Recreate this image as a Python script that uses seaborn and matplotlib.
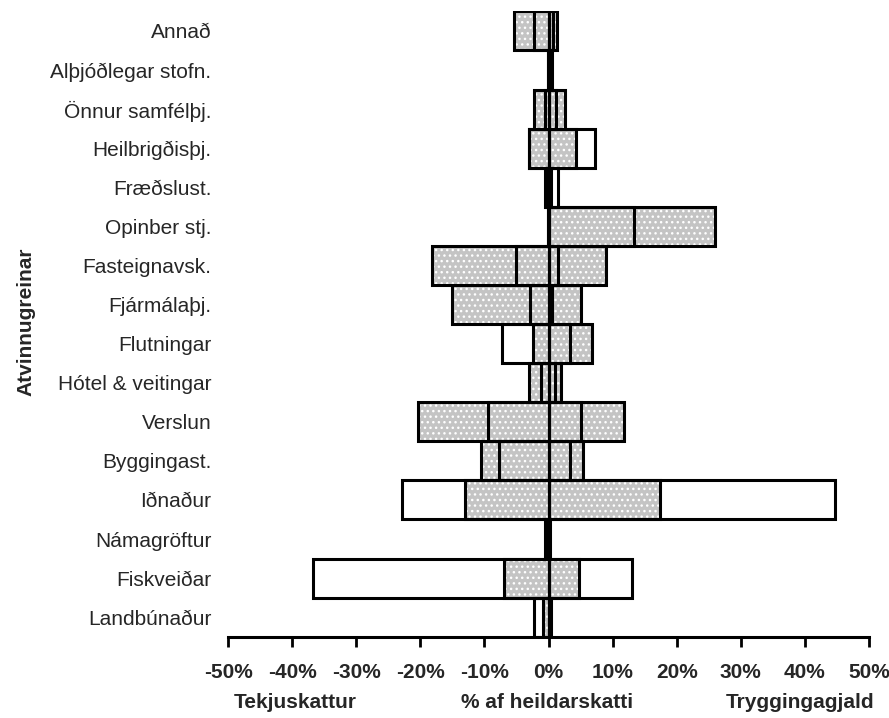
import matplotlib
matplotlib.use("Agg")
import matplotlib.pyplot as plt
import seaborn as sns

# ── Data (% af heildarskatti)
categories = ["Annað", "Alþjóðlegar stofn.", "Önnur samfélþj.", "Heilbrigðisþj.",
              "Fræðslust.", "Opinber stj.", "Fasteignavsk.", "Fjármálaþj.",
              "Flutningar", "Hótel & veitingar", "Verslun", "Byggingast.",
              "Iðnaður", "Námagröftur", "Fiskveiðar", "Landbúnaður"]

# Tekjuskattur (left side, negative)
tekju_filled  = [-5.4, -0.1, -2.3, -3.1, -0.3, -0.1, -18.1, -15.0,
                 -2.4, -3.1, -20.3, -10.6, -13.1, -0.4, -6.9, -0.9]
tekju_outline = [-2.2, -0.1, -0.6, -3.0, -0.6, -0.1, -5.1, -2.9,
                 -7.2, -1.1, -9.4, -7.8, -22.9, -0.5, -36.8, -2.2]

# Tryggingagjald (right side)
trygg_filled  = [1.3, 0.6, 2.6, 4.3, 0.4, 26.0, 9.0, 5.0,
                 6.8, 1.9, 11.8, 5.4, 17.4, 0.2, 4.8, 0.4]
trygg_outline = [0.7, 0.3, 1.1, 7.3, 1.5, 13.4, 1.5, 0.6,
                 3.4, 1.0, 5.0, 3.4, 44.7, 0.1, 13.0, 0.3]

xticks = [-50, -40, -30, -20, -10, 0, 10, 20, 30, 40, 50]
xticklabels = [f"{t}%" for t in xticks]

sns.set_style("white")
plt.rcParams["font.family"] = ["Liberation Sans", "DejaVu Sans"]
plt.rcParams["hatch.linewidth"] = 1.0

fig = plt.figure(figsize=(8.89, 7.18), dpi=100)
ax = fig.add_axes([0.2565, 0.1132, 0.721, 0.871])

# ── gray dotted bars (fill layer, then black outline on top)
for vals in (tekju_filled, trygg_filled):
    sns.barplot(x=vals, y=categories, orient="h", color="#c4c4c4", saturation=1,
                width=1.0, errorbar=None, edgecolor="white", hatch="...",
                linewidth=0, ax=ax)
    sns.barplot(x=vals, y=categories, orient="h", fill=False, width=1.0,
                errorbar=None, edgecolor="black", linewidth=2.2, ax=ax)

# ── outline-only bars drawn on top
for vals in (tekju_outline, trygg_outline):
    sns.barplot(x=vals, y=categories, orient="h", fill=False, width=1.0,
                errorbar=None, edgecolor="black", linewidth=2.2, ax=ax)

ax.set_xlim(-50, 50)
ax.set_ylim(len(categories) - 0.5, -0.5)
ax.set_xticks(xticks)
ax.set_xticklabels(xticklabels, fontsize=15, fontweight="bold")
ax.tick_params(axis="x", direction="out", length=7, width=2, pad=12,
               bottom=True, color="black")
ax.tick_params(axis="y", length=0, pad=12, labelsize=15)
for side in ("top", "right", "left"):
    ax.spines[side].set_visible(False)
ax.spines["bottom"].set_linewidth(2.2)
ax.spines["bottom"].set_color("black")
ax.set_xlabel("")
ax.set_ylabel("")

fig.text(26 / 889, 1 - 322 / 718, "Atvinnugreinar", rotation=90, ha="center",
         va="center", fontsize=15, fontweight="bold")
bottom_y = 1 - 703 / 718
fig.text(295 / 889, bottom_y, "Tekjuskattur", ha="center", va="center",
         fontsize=15, fontweight="bold")
fig.text(547 / 889, bottom_y, "% af heildarskatti", ha="center", va="center",
         fontsize=15, fontweight="bold")
fig.text(800 / 889, bottom_y, "Tryggingagjald", ha="center", va="center",
         fontsize=15, fontweight="bold")

fig.savefig("out.png", dpi=100)
